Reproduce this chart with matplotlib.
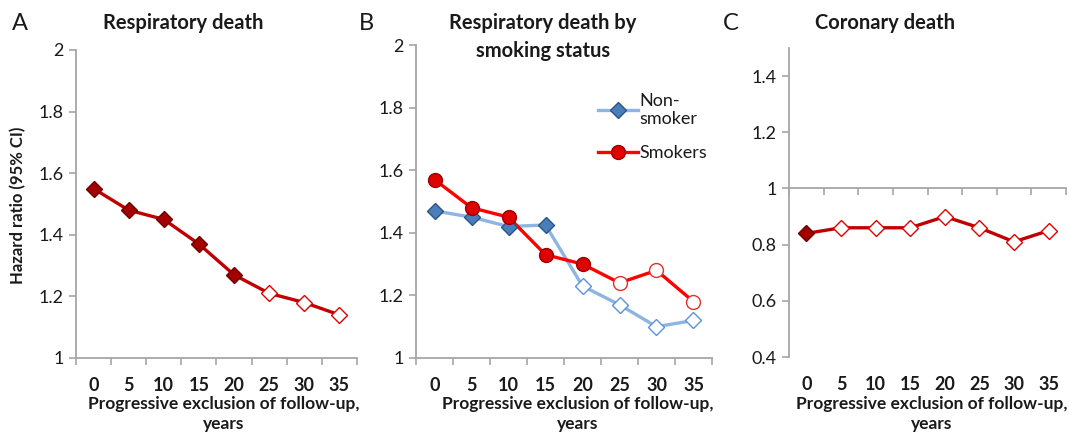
import matplotlib
matplotlib.use('Agg')
import matplotlib.pyplot as plt
from matplotlib.lines import Line2D

plt.rcParams['font.family'] = ['Lato', 'DejaVu Sans']

years = ['0', '5', '10', '15', '20', '25', '30', '35']

resp_hr = [1.55, 1.48, 1.45, 1.37, 1.27, 1.21, 1.18, 1.14]
resp_filled = [True, True, True, True, True, False, False, False]

nonsmoker_hr = [1.47, 1.45, 1.42, 1.425, 1.23, 1.17, 1.10, 1.12]
nonsmoker_filled = [True, True, True, True, False, False, False, False]
smoker_hr = [1.57, 1.48, 1.45, 1.33, 1.30, 1.24, 1.28, 1.18]
smoker_filled = [True, True, True, True, True, False, False, False]

coronary_hr = [0.84, 0.86, 0.86, 0.86, 0.90, 0.86, 0.81, 0.85]
coronary_filled = [True, False, False, False, False, False, False, False]

AXIS_GRAY = '#a6a6a6'
TEXT = '#1a1a1a'


def draw_series(ax, values, filled, line_color, face, edge, hollow_edge,
                marker, ms):
    xs = list(range(len(values)))
    ax.plot(xs, values, color=line_color, lw=2.4, zorder=2)
    fx = [x for x, f in zip(xs, filled) if f]
    fy = [v for v, f in zip(values, filled) if f]
    hx = [x for x, f in zip(xs, filled) if not f]
    hy = [v for v, f in zip(values, filled) if not f]
    ax.plot(fx, fy, ls='none', marker=marker, ms=ms, mfc=face, mec=edge,
            mew=1.0, zorder=3)
    ax.plot(hx, hy, ls='none', marker=marker, ms=ms, mfc='white',
            mec=hollow_edge, mew=1.0, zorder=3)


def style_axes(ax, ylim, yticks, yticklabels, cross=None):
    ax.set_xlim(-0.5, len(years) - 0.5)
    ax.set_ylim(*ylim)
    for side in ('top', 'right'):
        ax.spines[side].set_visible(False)
    for side in ('left', 'bottom'):
        ax.spines[side].set_color(AXIS_GRAY)
        ax.spines[side].set_linewidth(1.3)
    ax.set_yticks(yticks)
    ax.set_yticklabels(yticklabels, fontsize=13, color=TEXT)
    ax.tick_params(axis='y', direction='out', length=5, width=1.2,
                   color=AXIS_GRAY, pad=4)
    # category boundaries as tick marks, labels at category centres
    ax.set_xticks([i - 0.5 for i in range(len(years) + 1)], minor=True)
    ax.tick_params(axis='x', which='minor', direction='out', length=5,
                   width=1.2, color=AXIS_GRAY)
    if cross is None:
        ax.set_xticks(range(len(years)))
        ax.set_xticklabels(years, fontsize=13, fontweight='bold',
                           color=TEXT)
        ax.tick_params(axis='x', which='major', length=0, pad=14)
    else:
        ax.spines['bottom'].set_position(('data', cross))
        ax.set_xticks([])
        sec = ax.secondary_xaxis(0.0)
        sec.spines['bottom'].set_visible(False)
        sec.set_xticks(range(len(years)))
        sec.set_xticklabels(years, fontsize=13, fontweight='bold',
                            color=TEXT)
        sec.tick_params(axis='x', length=0, pad=14)


fig = plt.figure(figsize=(10.69, 4.34), dpi=100)
W, H = 1069.0, 434.0


def box(l, t, r, b):
    return [l / W, 1 - b / H, (r - l) / W, (b - t) / H]


axA = fig.add_axes(box(76, 50, 357, 358))
axB = fig.add_axes(box(416, 45, 712, 358))
axC = fig.add_axes(box(789, 48, 1066, 357))

# A
draw_series(axA, resp_hr, resp_filled, '#c00000', '#a30000', '#6e0000',
            '#e00000', 'D', 8.5)
style_axes(axA, (1, 2), [1, 1.2, 1.4, 1.6, 1.8, 2],
           ['1', '1.2', '1.4', '1.6', '1.8', '2'])

# B
draw_series(axB, nonsmoker_hr, nonsmoker_filled, '#8db4e2', '#4a7ebb',
            '#2c5487', '#5b93d8', 'D', 8.5)
draw_series(axB, smoker_hr, smoker_filled, '#ff0000', '#e00000', '#9a0000',
            '#e03030', 'o', 10)
style_axes(axB, (1, 2), [1, 1.2, 1.4, 1.6, 1.8, 2],
           ['1', '1.2', '1.4', '1.6', '1.8', '2'])
handles = [
    Line2D([], [], color='#8db4e2', lw=2.4, marker='D', ms=8.5,
           mfc='#4a7ebb', mec='#2c5487'),
    Line2D([], [], color='#ff0000', lw=2.4, marker='o', ms=10,
           mfc='#e00000', mec='#9a0000'),
]
axB.legend(handles, ['Non-\nsmoker', 'Smokers'], loc='upper left',
           bbox_to_anchor=(0.56, 0.90), frameon=False, fontsize=13,
           handlelength=2.2, handletextpad=0.1, labelspacing=1.0,
           labelcolor=TEXT)

# C
draw_series(axC, coronary_hr, coronary_filled, '#c00000', '#a30000',
            '#6e0000', '#e00000', 'D', 8.5)
style_axes(axC, (0.4, 1.5), [0.4, 0.6, 0.8, 1, 1.2, 1.4],
           ['0.4', '0.6', '0.8', '1', '1.2', '1.4'], cross=1)

# panel letters and titles
for letter, x in (('A', 20), ('B', 366), ('C', 731)):
    fig.text(x / W, 1 - 23 / H, letter, fontsize=17, ha='center',
             va='center', color=TEXT)
fig.text(183 / W, 1 - 23 / H, 'Respiratory death', fontsize=14.5,
         fontweight='bold', ha='center', va='center', color=TEXT)
fig.text(543 / W, 1 - 37 / H, 'Respiratory death by\nsmoking status',
         fontsize=14.5, fontweight='bold', ha='center', va='center',
         linespacing=1.45, color=TEXT)
fig.text(885 / W, 1 - 23 / H, 'Coronary death', fontsize=14.5,
         fontweight='bold', ha='center', va='center', color=TEXT)

# axis labels
fig.text(18 / W, 1 - 205 / H, 'Hazard ratio (95% CI)', rotation=90,
         fontsize=12, fontweight='bold', ha='center', va='center',
         color=TEXT)
for cx in (224, 578, 932):
    fig.text(cx / W, 1 - 414 / H, 'Progressive exclusion of follow-up,\nyears',
             fontsize=12.5, fontweight='bold', ha='center', va='center',
             linespacing=1.35, color=TEXT)

fig.savefig('out.png', dpi=100)
